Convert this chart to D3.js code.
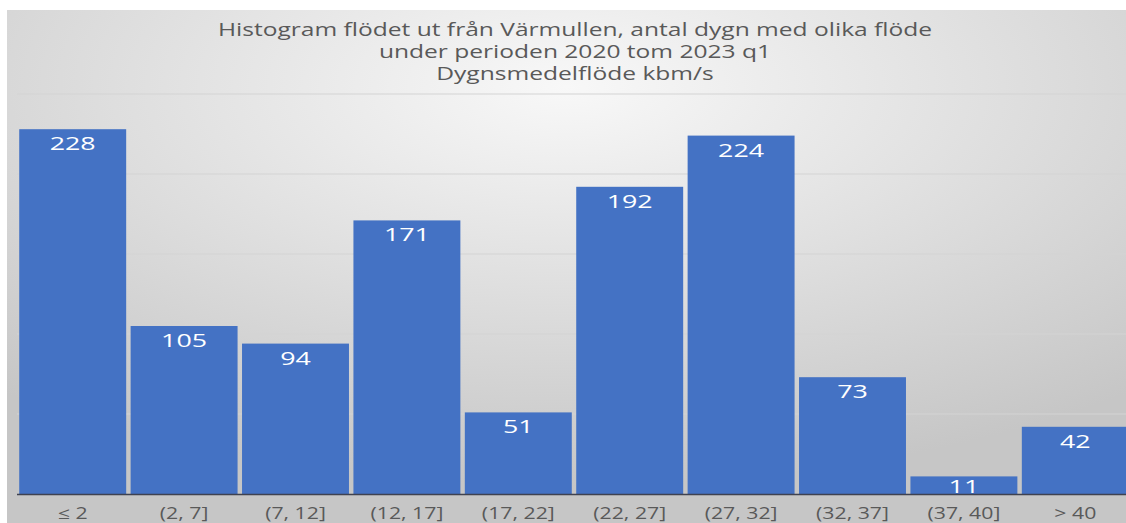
<!DOCTYPE html>
<html>
<head>
<meta charset="utf-8">
<script src="https://cdn.jsdelivr.net/npm/d3@7"></script>
<style>
  html, body { margin: 0; padding: 0; background: #fff; overflow: hidden; }
  text { font-family: "Open Sans", sans-serif; }
</style>
</head>
<body>
<div id="chart"></div>
<script>
// data
const categories = ['≤ 2', '(2, 7]', '(7, 12]', '(12, 17]', '(17, 22]', '(22, 27]', '(27, 32]', '(32, 37]', '(37, 40]', '> 40'];
const counts = [228, 105, 94, 171, 51, 192, 224, 73, 11, 42];
const yTicks = [50, 100, 150, 200, 250];
const titleLines = [
  'Histogram flödet ut från Värmullen, antal dygn med olika flöde',
  'under perioden 2020 tom 2023 q1',
  'Dygnsmedelflöde kbm/s'
];

const W = 1126, H = 523;
const svg = d3.select('#chart')
  .append('svg')
  .attr('width', W)
  .attr('height', H);

// background with radial gradient
const defs = svg.append('defs');
const grad = defs.append('radialGradient')
  .attr('id', 'bg')
  .attr('cx', '50%').attr('cy', '15%')
  .attr('r', '78%');
grad.append('stop').attr('offset', '0%').attr('stop-color', '#f8f8f8');
grad.append('stop').attr('offset', '100%').attr('stop-color', '#c6c6c6');

svg.append('rect')
  .attr('x', 7).attr('y', 10)
  .attr('width', W - 7).attr('height', H - 10)
  .attr('fill', 'url(#bg)');

// scales
const x = d3.scaleBand()
  .domain(categories)
  .range([17, 1131])
  .paddingInner(0.04)
  .paddingOuter(0.02);

const y = d3.scaleLinear()
  .domain([0, 250])
  .range([494, 94]);

// the original picture is stretched sideways, so texts are too
const titleStretch = 1.42;
const labelStretch = 1.45;
const tickStretch = 1.33;

// title
svg.append('g')
  .selectAll('text')
  .data(titleLines)
  .join('text')
  .attr('transform', (d, i) => `translate(575, ${36 + i * 22}) scale(${titleStretch},1)`)
  .attr('text-anchor', 'middle')
  .style('font-size', '17.3px')
  .style('fill', '#595959')
  .text(d => d);

// gridlines
svg.append('g')
  .selectAll('line')
  .data(yTicks)
  .join('line')
  .attr('x1', 17).attr('x2', W)
  .attr('y1', d => y(d)).attr('y2', d => y(d))
  .attr('stroke', '#d4d4d4')
  .attr('stroke-width', 1.2);

// bars
svg.append('g')
  .selectAll('rect')
  .data(counts)
  .join('rect')
  .attr('x', (d, i) => x(categories[i]))
  .attr('y', d => y(d))
  .attr('width', x.bandwidth())
  .attr('height', d => y(0) - y(d))
  .attr('fill', '#4472c4');

// data labels
svg.append('g')
  .selectAll('text')
  .data(counts)
  .join('text')
  .attr('transform', (d, i) => {
    const cx = x(categories[i]) + x.bandwidth() / 2;
    const by = Math.min(y(d) + 21, 493);
    return `translate(${cx}, ${by}) scale(${labelStretch},1)`;
  })
  .attr('text-anchor', 'middle')
  .style('font-size', '18.5px')
  .style('fill', '#ffffff')
  .text(d => d);

// x axis
const xAxis = svg.append('g')
  .attr('transform', `translate(0, ${y(0)})`)
  .call(d3.axisBottom(x).tickSize(0).tickPadding(0));
xAxis.select('.domain')
  .attr('d', `M17,0.5H${W}`)
  .attr('stroke', '#3f4250')
  .attr('stroke-width', 1.5);
xAxis.selectAll('.tick text')
  .attr('y', 0)
  .attr('dy', 0)
  .attr('transform', `translate(0, 24.5) scale(${tickStretch},1)`)
  .style('font-family', '"Open Sans", sans-serif')
  .style('font-size', '16px')
  .style('fill', '#595959');
</script>
</body>
</html>
